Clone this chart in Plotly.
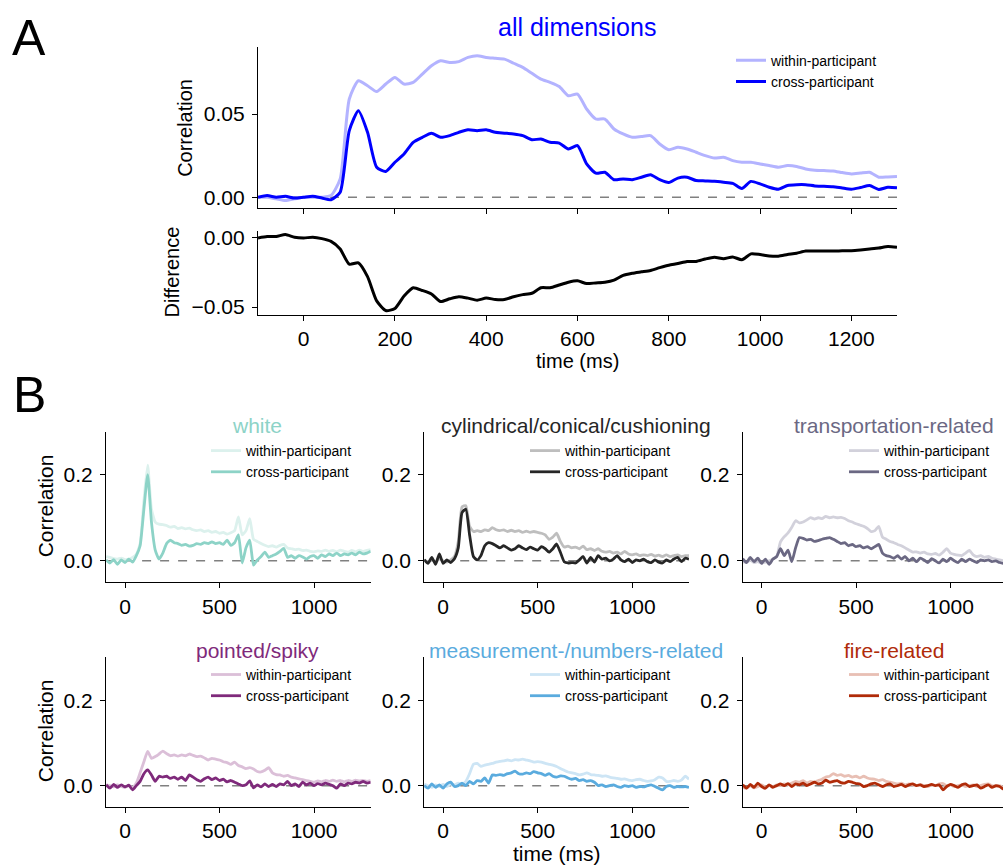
import plotly.graph_objects as go

# ---------------- data ----------------
T = [-100, -80, -60, -40, -20, 0, 20, 40, 60, 80,
     100, 120, 140, 160, 180, 200, 220, 240, 260, 280,
     300, 320, 340, 360, 380, 400, 420, 440, 460, 480,
     500, 520, 540, 560, 580, 600, 620, 640, 660, 680,
     700, 720, 740, 760, 780, 800, 820, 840, 860, 880,
     900, 920, 940, 960, 980, 1000, 1020, 1040, 1060, 1080,
     1100, 1120, 1140, 1160, 1180, 1200, 1220, 1240, 1260, 1280,
     1300]

ALL_WITHIN = [0.000, 0.000, -0.001, -0.002, -0.001, 0.000, 0.000, 0.000, 0.001, 0.011,
              0.059, 0.070, 0.067, 0.0635, 0.068, 0.072, 0.068, 0.069, 0.074, 0.079,
              0.082, 0.081, 0.0815, 0.084, 0.085, 0.084, 0.0835, 0.083, 0.0805, 0.078,
              0.0745, 0.071, 0.069, 0.0665, 0.061, 0.062, 0.053, 0.047, 0.047, 0.041,
              0.038, 0.036, 0.0365, 0.037, 0.032, 0.0285, 0.030, 0.029, 0.027, 0.025,
              0.0235, 0.024, 0.022, 0.021, 0.021, 0.020, 0.019, 0.018, 0.019, 0.0185,
              0.017, 0.0162, 0.016, 0.0158, 0.0148, 0.014, 0.0145, 0.015, 0.012, 0.0122,
              0.0125]
ALL_CROSS = [0.000, 0.001, 0.000, 0.0005, -0.0005, 0.000, 0.0005, -0.0005, -0.0015, 0.003,
             0.040, 0.052, 0.039, 0.018, 0.0155, 0.021, 0.026, 0.033, 0.036, 0.0385,
             0.036, 0.037, 0.039, 0.0405, 0.040, 0.0405, 0.039, 0.0385, 0.038, 0.037,
             0.0345, 0.035, 0.033, 0.0325, 0.029, 0.031, 0.020, 0.0145, 0.015, 0.0105,
             0.011, 0.0105, 0.012, 0.0135, 0.0105, 0.0088, 0.0115, 0.012, 0.010, 0.0098,
             0.0096, 0.009, 0.0083, 0.0052, 0.0095, 0.008, 0.006, 0.0048, 0.007, 0.0075,
             0.0075, 0.0068, 0.0066, 0.0063, 0.0055, 0.0048, 0.0058, 0.007, 0.0047, 0.006,
             0.0057]

WHITE_W = [0.010, 0.008, 0.005, 0.004, 0.006, 0.003, 0.004, 0.008, 0.015, 0.040,
           0.140, 0.222, 0.120, 0.090, 0.085, 0.084, 0.082, 0.078, 0.080, 0.075,
           0.077, 0.074, 0.076, 0.072, 0.070, 0.072, 0.068, 0.070, 0.066, 0.068,
           0.064, 0.066, 0.062, 0.065, 0.070, 0.102, 0.060, 0.070, 0.098, 0.050,
           0.045, 0.040, 0.036, 0.033, 0.035, 0.032, 0.036, 0.038, 0.030, 0.028,
           0.026, 0.027, 0.024, 0.025, 0.022, 0.021, 0.023, 0.022, 0.025, 0.022,
           0.024, 0.021, 0.025, 0.022, 0.020, 0.024, 0.021, 0.025, 0.022, 0.024,
           0.026]
WHITE_C = [0.002, -0.005, 0.003, -0.008, 0.002, -0.004, 0.004, -0.003, 0.012, 0.035,
           0.120, 0.200, 0.090, 0.025, 0.004, 0.018, 0.040, 0.048, 0.042, 0.040,
           0.036, 0.038, 0.034, 0.036, 0.040, 0.038, 0.042, 0.040, 0.044, 0.040,
           0.042, 0.038, 0.048, 0.036, 0.042, 0.060, -0.005, 0.030, 0.048, -0.010,
           0.002, 0.010, 0.020, 0.008, 0.012, 0.016, 0.022, 0.029, 0.008, 0.012,
           0.006, 0.012, 0.009, 0.004, 0.010, 0.012, 0.006, 0.014, 0.010, 0.016,
           0.012, 0.018, 0.012, 0.016, 0.014, 0.018, 0.014, 0.020, 0.016, 0.018,
           0.022]

CYL_W = [0.002, -0.002, 0.003, -0.003, 0.005, 0.000, -0.003, 0.002, 0.010, 0.045,
         0.125, 0.128, 0.080, 0.068, 0.070, 0.068, 0.072, 0.070, 0.077, 0.072,
         0.070, 0.072, 0.068, 0.071, 0.068, 0.070, 0.066, 0.069, 0.066, 0.068,
         0.066, 0.064, 0.060, 0.050, 0.055, 0.064, 0.045, 0.032, 0.034, 0.030,
         0.032, 0.028, 0.034, 0.026, 0.028, 0.024, 0.028, 0.022, 0.020, 0.022,
         0.018, 0.020, 0.016, 0.022, 0.016, 0.014, 0.016, 0.012, 0.014, 0.012,
         0.015, 0.011, 0.013, 0.010, 0.014, 0.010, 0.012, 0.014, 0.010, 0.012,
         0.012]
CYL_C = [0.003, -0.006, 0.008, -0.008, 0.016, -0.006, 0.002, -0.004, 0.005, 0.030,
         0.112, 0.120, 0.060, 0.010, 0.002, 0.012, 0.035, 0.042, 0.040, 0.035,
         0.030, 0.035, 0.030, 0.025, 0.028, 0.035, 0.030, 0.026, 0.032, 0.028,
         0.025, 0.033, 0.028, 0.020, 0.028, 0.039, 0.020, -0.002, -0.005, -0.004,
         -0.005, 0.002, 0.010, -0.005, 0.008, -0.003, 0.012, 0.004, 0.006, 0.000,
         0.004, 0.012, 0.002, -0.002, 0.004, -0.004, 0.002, 0.000, 0.004, -0.002,
         -0.004, 0.002, -0.003, -0.005, 0.002, -0.002, 0.004, 0.008, -0.002, 0.006,
         0.004]

TRANS_W = [-0.002, -0.004, 0.002, -0.004, -0.002, -0.005, -0.003, 0.000, 0.004, 0.010,
           0.044, 0.056, 0.065, 0.078, 0.093, 0.088, 0.090, 0.095, 0.100, 0.097,
           0.100, 0.098, 0.103, 0.100, 0.102, 0.100, 0.101, 0.098, 0.093, 0.090,
           0.086, 0.083, 0.080, 0.075, 0.068, 0.070, 0.080, 0.055, 0.050, 0.045,
           0.042, 0.038, 0.035, 0.030, 0.025, 0.020, 0.021, 0.018, 0.020, 0.016,
           0.015, 0.017, 0.013, 0.020, 0.028, 0.018, 0.015, 0.013, 0.012, 0.018,
           0.024, 0.014, 0.010, 0.012, 0.008, 0.010, 0.006, 0.004, 0.002, 0.000,
           0.000]
TRANS_C = [0.005, -0.004, 0.008, -0.002, 0.006, -0.006, 0.004, -0.008, 0.004, 0.010,
           0.028, 0.012, 0.025, -0.002, 0.030, 0.054, 0.052, 0.048, 0.050, 0.045,
           0.047, 0.050, 0.052, 0.054, 0.050, 0.045, 0.040, 0.042, 0.035, 0.038,
           0.033, 0.035, 0.030, 0.033, 0.028, 0.033, 0.038, 0.018, 0.012, 0.010,
           0.006, 0.012, 0.004, 0.010, 0.000, 0.006, -0.002, 0.006, 0.002, -0.004,
           0.005, 0.000, -0.005, 0.004, -0.002, 0.006, 0.000, -0.004, 0.004, -0.002,
           0.004, 0.000, -0.004, 0.002, 0.000, 0.002, -0.002, 0.000, -0.004, -0.006,
           -0.006]

POINT_W = [0.002, 0.000, -0.003, 0.002, -0.002, -0.004, 0.000, -0.004, 0.006, 0.030,
           0.056, 0.080, 0.064, 0.068, 0.074, 0.081, 0.075, 0.070, 0.072, 0.069,
           0.072, 0.070, 0.074, 0.071, 0.068, 0.069, 0.065, 0.060, 0.064, 0.062,
           0.060, 0.056, 0.054, 0.050, 0.055, 0.047, 0.044, 0.040, 0.042, 0.039,
           0.033, 0.032, 0.036, 0.042, 0.030, 0.026, 0.025, 0.022, 0.024, 0.020,
           0.018, 0.016, 0.014, 0.012, 0.010, 0.008, 0.011, 0.009, 0.012, 0.010,
           0.013, 0.010, 0.012, 0.009, 0.012, 0.010, 0.013, 0.011, 0.012, 0.010,
           0.012]
POINT_C = [0.002, -0.006, 0.003, -0.004, 0.002, -0.003, 0.001, -0.010, 0.000, 0.010,
           0.028, 0.037, 0.025, 0.010, 0.022, 0.020, 0.022, 0.017, 0.020, 0.015,
           0.020, 0.012, 0.025, 0.020, 0.014, 0.010, 0.016, 0.020, 0.014, 0.018,
           0.012, 0.015, 0.009, 0.012, 0.008, 0.004, 0.000, 0.002, 0.011, -0.005,
           0.002, -0.003, 0.004, -0.002, 0.003, -0.002, 0.004, 0.002, 0.010, 0.000,
           0.004, -0.002, 0.008, 0.002, 0.006, 0.000, 0.005, 0.002, 0.006, 0.003,
           0.000, -0.006, 0.004, 0.000, 0.006, 0.004, 0.008, 0.006, 0.010, 0.006,
           0.008]

MEAS_W = [0.004, 0.000, -0.004, 0.002, -0.002, 0.003, -0.002, 0.004, 0.002, 0.006,
          0.004, 0.010, 0.028, 0.050, 0.052, 0.045, 0.048, 0.050, 0.052, 0.055,
          0.057, 0.058, 0.060, 0.058, 0.061, 0.060, 0.062, 0.060, 0.058, 0.055,
          0.056, 0.055, 0.052, 0.050, 0.048, 0.045, 0.040, 0.036, 0.032, 0.030,
          0.028, 0.025, 0.027, 0.030, 0.026, 0.025, 0.024, 0.022, 0.023, 0.020,
          0.018, 0.017, 0.015, 0.016, 0.013, 0.012, 0.014, 0.015, 0.012, 0.010,
          0.011, 0.014, 0.020, 0.018, 0.010, 0.010, 0.012, 0.010, 0.013, 0.022,
          0.015]
MEAS_C = [0.000, -0.006, 0.004, -0.004, 0.002, -0.006, 0.004, 0.008, -0.002, 0.000,
          0.006, 0.000, 0.010, 0.004, 0.012, 0.010, 0.018, 0.006, 0.025, 0.024,
          0.026, 0.024, 0.028, 0.030, 0.034, 0.028, 0.027, 0.030, 0.028, 0.033,
          0.030, 0.028, 0.024, 0.028, 0.022, 0.020, 0.023, 0.022, 0.018, 0.015,
          0.017, 0.012, 0.014, 0.010, 0.012, 0.008, 0.000, 0.002, -0.002, 0.000,
          0.002, -0.002, -0.004, 0.000, -0.002, 0.000, -0.004, -0.002, -0.003, 0.000,
          0.002, -0.002, -0.006, -0.010, -0.002, 0.000, -0.004, -0.002, -0.003, -0.002,
          -0.004]

FIRE_W = [-0.004, -0.006, 0.000, -0.005, -0.002, 0.002, -0.003, 0.000, -0.002, 0.002,
          0.000, 0.004, 0.002, 0.006, 0.010, 0.008, 0.012, 0.006, 0.010, 0.008,
          0.012, 0.015, 0.020, 0.022, 0.028, 0.024, 0.026, 0.022, 0.024, 0.020,
          0.022, 0.018, 0.022, 0.018, 0.016, 0.015, 0.012, 0.014, 0.010, 0.008,
          0.006, 0.004, 0.006, 0.002, 0.004, 0.002, 0.000, 0.003, 0.000, -0.002,
          0.002, 0.000, 0.004, 0.005, 0.000, 0.002, -0.002, 0.000, 0.002, -0.002,
          0.000, 0.002, -0.002, 0.000, 0.003, 0.004, 0.000, -0.002, 0.000, -0.004,
          -0.004]
FIRE_C = [0.002, -0.006, 0.003, -0.004, 0.006, -0.002, -0.006, 0.002, -0.004, 0.000,
          0.004, 0.000, 0.005, -0.002, 0.004, 0.002, 0.006, 0.000, 0.004, 0.008,
          0.004, 0.006, 0.013, 0.008, 0.010, 0.012, 0.007, 0.006, 0.010, 0.008,
          0.005, 0.004, -0.002, 0.000, 0.004, 0.006, 0.002, -0.002, 0.002, 0.004,
          -0.002, 0.000, 0.003, -0.002, 0.002, 0.004, 0.000, 0.002, -0.002, 0.000,
          0.003, 0.000, 0.002, -0.010, -0.002, 0.003, 0.000, -0.004, 0.002, 0.004,
          -0.002, 0.000, 0.002, -0.006, -0.002, 0.002, -0.004, 0.000, -0.002, -0.008,
          -0.010]

TITLES = ["white", "cylindrical/conical/cushioning", "transportation-related",
          "pointed/spiky", "measurement-/numbers-related", "fire-related"]
WITHIN = [WHITE_W, CYL_W, TRANS_W, POINT_W, MEAS_W, FIRE_W]
CROSS = [WHITE_C, CYL_C, TRANS_C, POINT_C, MEAS_C, FIRE_C]
WITHIN_COLORS = ["#dcf1ed", "#bebebe", "#d2d1db", "#dbbfd8", "#cde5f5", "#e8bfb4"]
CROSS_COLORS = ["#8dd3c7", "#262626", "#6b6883", "#7f2a7b", "#5aabde", "#b02b09"]
ALL_W_COLOR, ALL_C_COLOR = "#b3b3ff", "#0000ff"
LEG_LABELS = ["within-participant", "cross-participant"]

# ---------------- layout helpers ----------------
FW, FH = 1003, 867
FONT = "Liberation Sans, Arial, Helvetica, sans-serif"


def PX(px):
    return px / FW


def PY(py):
    return 1 - py / FH


fig = go.Figure()

# ---- Panel A ----
fig.add_trace(go.Scatter(x=T, y=ALL_WITHIN, mode="lines", name=LEG_LABELS[0],
                         line=dict(color=ALL_W_COLOR, width=3, shape="spline", smoothing=0.6),
                         xaxis="x", yaxis="y", legend="legend"))
fig.add_trace(go.Scatter(x=T, y=ALL_CROSS, mode="lines", name=LEG_LABELS[1],
                         line=dict(color=ALL_C_COLOR, width=3, shape="spline", smoothing=0.6),
                         xaxis="x", yaxis="y", legend="legend"))
DIFF = [c - w for c, w in zip(ALL_CROSS, ALL_WITHIN)]
fig.add_trace(go.Scatter(x=T, y=DIFF, mode="lines", showlegend=False,
                         line=dict(color="black", width=3, shape="spline", smoothing=0.6),
                         xaxis="x2", yaxis="y2"))

axis_common = dict(showline=True, linecolor="black", linewidth=1.2, ticks="outside",
                   ticklen=5, tickwidth=1.2, tickcolor="black", showgrid=False,
                   zeroline=False, tickfont=dict(family=FONT, size=21, color="black"))

layout = dict(
    width=FW, height=FH, autosize=False,
    margin=dict(l=0, r=0, t=0, b=0),
    paper_bgcolor="white", plot_bgcolor="white",
    font=dict(family=FONT, color="black"),
    showlegend=True,
)

xA = [PX(258), PX(897)]
layout["xaxis"] = dict(axis_common, domain=xA, range=[-100, 1300],
                       tickvals=[0, 200, 400, 600, 800, 1000, 1200],
                       showticklabels=False, anchor="y")
layout["yaxis"] = dict(axis_common, domain=[PY(205), PY(42)], range=[-0.00655, 0.0905],
                       tickvals=[0, 0.05], tickformat=".2f", anchor="x", ticklabelstandoff=3)
layout["xaxis2"] = dict(axis_common, domain=xA, range=[-100, 1300],
                        tickvals=[0, 200, 400, 600, 800, 1000, 1200], anchor="y2")
layout["yaxis2"] = dict(axis_common, domain=[PY(313), PY(228)], range=[-0.0558, 0.0051],
                        tickvals=[-0.05, 0], tickformat=".2f", anchor="x2", ticklabelstandoff=3)

layout["legend"] = dict(x=PX(731), y=PY(40), xanchor="left", yanchor="top",
                        bgcolor="rgba(0,0,0,0)", font=dict(family=FONT, size=14, color="black"),
                        itemwidth=30, tracegroupgap=0)

shapes = [dict(type="line", xref="x domain", yref="y", x0=0, x1=1, y0=0, y1=0,
               line=dict(color="#808080", width=1.5, dash="dash"), layer="below")]

annotations = [
    dict(text="A", x=PX(29), y=PY(33), font=dict(size=50)),
    dict(text="B", x=PX(29), y=PY(394), font=dict(size=50)),
    dict(text="all dimensions", x=PX(577), y=PY(22), font=dict(size=25, color=ALL_C_COLOR)),
    dict(text="Correlation", x=PX(185), y=PY(124), textangle=-90, font=dict(size=20)),
    dict(text="Difference", x=PX(172), y=PY(270), textangle=-90, font=dict(size=20)),
    dict(text="time (ms)", x=PX(577), y=PY(359), font=dict(size=20)),
    dict(text="time (ms)", x=PX(557), y=PY(856), font=dict(size=21)),
    dict(text="Correlation", x=PX(45), y=PY(506), textangle=-90, font=dict(size=21)),
    dict(text="Correlation", x=PX(45), y=PY(733), textangle=-90, font=dict(size=21)),
]

# ---- Panel B ----
COL_X = [(106.1, 370.7), (424.2, 689.0), (742.7, 1003.0)]
COL_XMAX = [1300, 1300, 1278]
ROW_Y = [(430.5, 582.75), (658.5, 809.5)]
TITLE_X = [257, 576, 894]
TITLE_Y = [424, 652]
LEG_X = [206, 525, 844]
LEG_Y = [434, 660]

for i in range(6):
    r, c = divmod(i, 3)
    k = i + 3
    xa, ya = f"x{k}", f"y{k}"
    leg = f"legend{i + 2}"
    fig.add_trace(go.Scatter(x=T, y=WITHIN[i], mode="lines", name=LEG_LABELS[0],
                             line=dict(color=WITHIN_COLORS[i], width=2.8, shape="spline", smoothing=0.5),
                             xaxis=xa, yaxis=ya, legend=leg))
    fig.add_trace(go.Scatter(x=T, y=CROSS[i], mode="lines", name=LEG_LABELS[1],
                             line=dict(color=CROSS_COLORS[i], width=2.8, shape="spline", smoothing=0.5),
                             xaxis=xa, yaxis=ya, legend=leg))
    layout[f"xaxis{k}"] = dict(axis_common, domain=[PX(COL_X[c][0]), PX(COL_X[c][1])],
                               range=[-100, COL_XMAX[c]], tickvals=[0, 500, 1000], anchor=ya)
    layout[f"yaxis{k}"] = dict(axis_common, domain=[PY(ROW_Y[r][1]), PY(ROW_Y[r][0])],
                               range=[-0.05, 0.3], tickvals=[0, 0.2], tickformat=".1f", anchor=xa,
                               ticklabelstandoff=3)
    layout[leg] = dict(x=PX(LEG_X[c]), y=PY(LEG_Y[r]), xanchor="left", yanchor="top",
                       bgcolor="rgba(0,0,0,0)", font=dict(family=FONT, size=14, color="black"),
                       itemwidth=30, tracegroupgap=0)
    shapes.append(dict(type="line", xref=f"{xa} domain", yref=ya, x0=0, x1=1, y0=0, y1=0,
                       line=dict(color="#808080", width=1.5, dash="dash"), layer="below"))
    annotations.append(dict(text=TITLES[i], x=PX(TITLE_X[c]), y=PY(TITLE_Y[r]),
                            font=dict(size=21, color=CROSS_COLORS[i])))

for a in annotations:
    a.update(xref="paper", yref="paper", showarrow=False, xanchor="center", yanchor="middle")
    a["font"].setdefault("family", FONT)
    a["font"].setdefault("color", "black")

layout["shapes"] = shapes
layout["annotations"] = annotations
fig.update_layout(**layout)

fig.write_html("out.html",
               config={"displayModeBar": False},
               post_script="document.body.style.margin='0px';document.body.style.overflow='hidden';")
